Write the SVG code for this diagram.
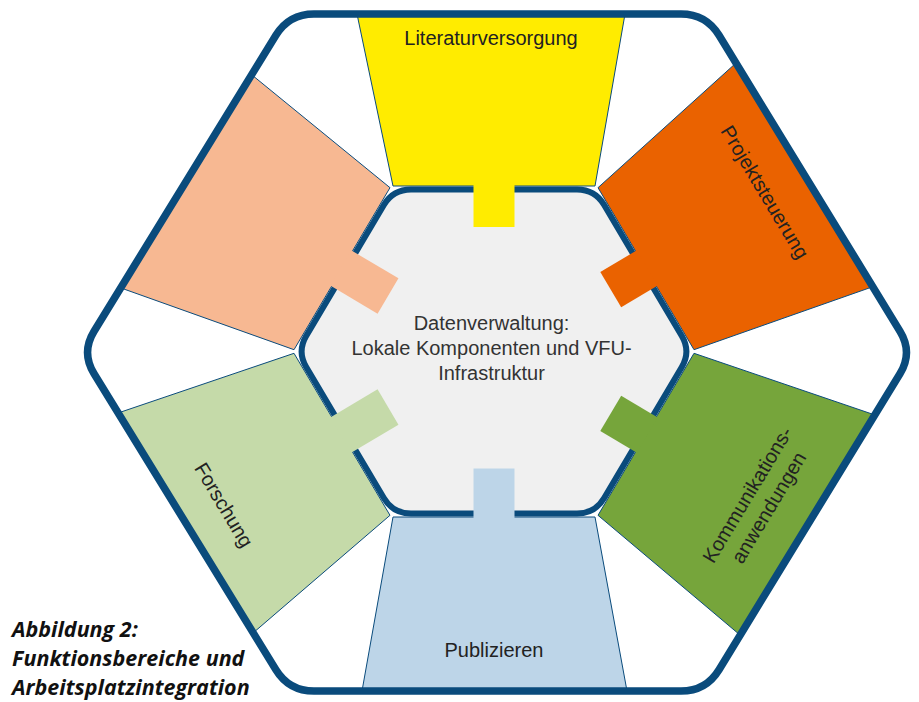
<svg xmlns="http://www.w3.org/2000/svg" width="919" height="702" viewBox="0 0 919 702">
<style>
.sec{stroke:#0a4b7c;stroke-width:1;stroke-linejoin:miter}
.lbl{font-family:"Liberation Sans",Arial,sans-serif;font-size:20px;fill:#222}
.ctr{font-family:"Liberation Sans",Arial,sans-serif;font-size:20px;fill:#333}
.cap{font-family:"Open Sans","DejaVu Sans",sans-serif;font-size:21.5px;font-weight:bold;font-style:italic;fill:#111}
.frame{fill:none;stroke:#0a4b7c;stroke-width:7.5;stroke-linejoin:round}
</style>
<rect width="919" height="702" fill="#ffffff"/>
<g id="datenverwaltung">
<path d="M411,189.5 L577,189.5 Q595,189.5 604.18,204.99 L681.82,336.01 Q691,351.5 681.82,366.99 L604.18,498.01 Q595,513.5 577,513.5 L411,513.5 Q393,513.5 383.82,498.01 L306.18,366.99 Q297,351.5 306.18,336.01 L383.82,204.99 Q393,189.5 411,189.5 Z" fill="#f0f0f0" stroke="#0a4b7c" stroke-width="6"/>
<text class="ctr" text-anchor="middle"><tspan x="491.5" y="330">Datenverwaltung:</tspan><tspan x="491.5" y="355">Lokale Komponenten und VFU-</tspan><tspan x="491.5" y="380">Infrastruktur</tspan></text>
</g>
<g id="literaturversorgung">
<polygon class="sec" fill="#ffec00" points="357,14 625,14 595,186 393,186"/>
<rect fill="#ffec00" x="-20.5" y="-5" width="41" height="42.5" transform="translate(494,189.5)"/>
<text class="lbl" x="491" y="45" text-anchor="middle">Literaturversorgung</text>
</g>
<g id="projektsteuerung">
<polygon class="sec" fill="#ea6200" points="598,187.7 736,63 872,287 694,349.7"/>
<rect fill="#ea6200" x="-20.5" y="-5" width="41" height="42.5" transform="translate(643,270.5) rotate(59.35)"/>
<text class="lbl" text-anchor="middle" y="7" transform="translate(765,192) rotate(59)">Projektsteuerung</text>
</g>
<g id="kommunikationsanwendungen">
<polygon class="sec" fill="#76a53b" points="694,353.3 875,415 740,635 598,515.3"/>
<rect fill="#76a53b" x="-20.5" y="-5" width="41" height="42.5" transform="translate(643,432.5) rotate(120.65)"/>
<text class="lbl" text-anchor="middle" transform="translate(758,501) rotate(-59)"><tspan x="0" y="-5.5">Kommunikations-</tspan><tspan x="0" y="19.5">anwendungen</tspan></text>
</g>
<g id="publizieren">
<polygon class="sec" fill="#bdd5e8" points="595,517 627,691 362,691 393,517"/>
<rect fill="#bdd5e8" x="-20.5" y="-5" width="41" height="50" transform="translate(494,513.5) rotate(180)"/>
<text class="lbl" x="494" y="656.5" text-anchor="middle">Publizieren</text>
</g>
<g id="forschung">
<polygon class="sec" fill="#c5daa9" points="390,515.3 253,633 118,413 294,353.3"/>
<rect fill="#c5daa9" x="-20.5" y="-5" width="41" height="55" transform="translate(345,432.5) rotate(-120.65)"/>
<text class="lbl" text-anchor="middle" y="7" transform="translate(224,505) rotate(59)">Forschung</text>
</g>
<g id="bereich-links-oben">
<polygon class="sec" fill="#f7b892" points="294,349.7 121,288 252,75 390,187.7"/>
<rect fill="#f7b892" x="-20.5" y="-5" width="41" height="55" transform="translate(345,270.5) rotate(-59.35)"/>
</g>
<g id="rahmen">
<path class="frame" d="M314,14 L681,14 Q706,14 719.04,35.33 L899.96,331.17 Q913,352.5 899.96,373.83 L719.04,669.67 Q706,691 681,691 L314,691 Q289,691 275.91,669.7 L94.09,373.8 Q81,352.5 94.09,331.2 L275.9,35.3 Q289,14 314,14 Z"/>
</g>
<g id="connectors"/>
<g id="caption">
<text class="cap"><tspan x="12" y="637">Abbildung 2:</tspan><tspan x="12" y="666">Funktionsbereiche und</tspan><tspan x="12" y="695">Arbeitsplatzintegration</tspan></text>
</g>
</svg>
